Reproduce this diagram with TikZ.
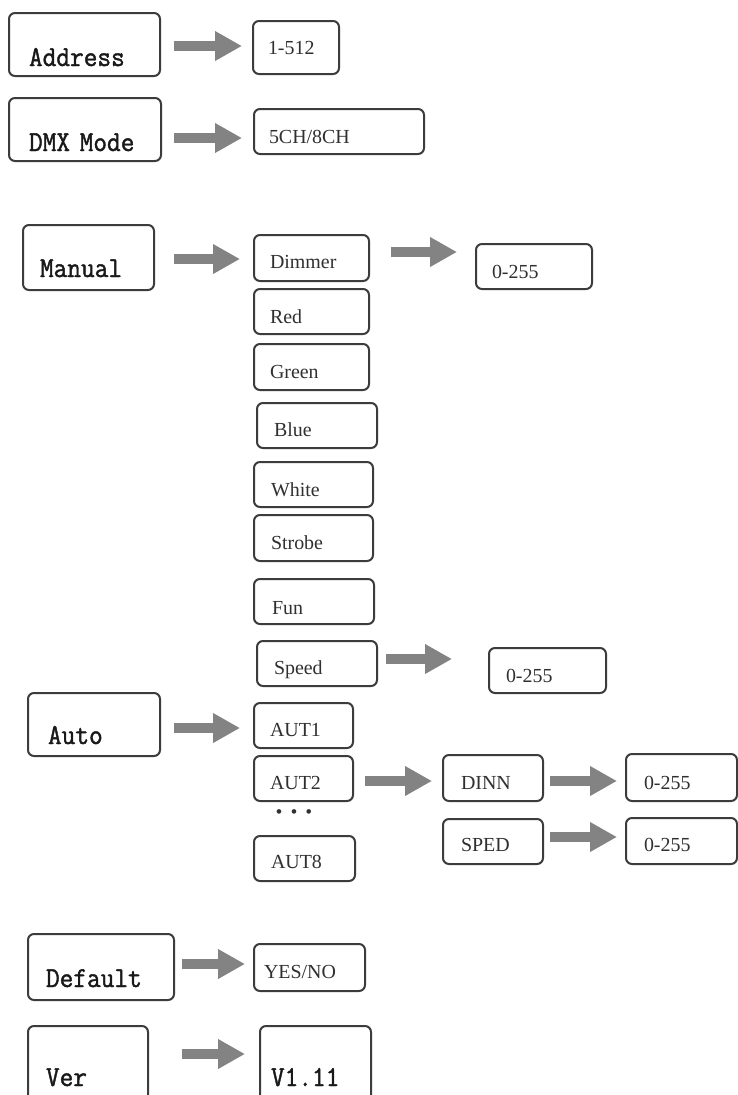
\documentclass[tikz,border=0pt]{standalone}
\usepackage{fontspec}
\setmainfont{Liberation Serif}
\newfontfamily\monob[FakeBold=1.4, FakeStretch=0.92]{Latin Modern Mono}
\usetikzlibrary{arrows.meta}
\definecolor{boxc}{HTML}{3C3C3C}
\definecolor{arrc}{HTML}{838383}
\definecolor{txtc}{HTML}{303030}
\tikzset{
  bx/.style={draw=boxc, line width=2bp, rounded corners=6bp, anchor=north west,
    inner ysep=0pt, align=left, text=txtc},
  g/.style n args={4}{text width=#1bp, inner xsep=#2bp, text height=#3bp, text depth=#4bp},
  lt/.style={font=\monob\fontsize{29}{29}\selectfont, text=black!90},
  rt/.style={font=\fontsize{20}{20}\selectfont},
  arr/.style={draw=arrc, line width=10bp, -{Triangle[length=27bp,width=28bp]}},
}
\begin{document}
\begin{tikzpicture}[x=1bp, y=-1bp]
\clip (0,0) rectangle (738,1095);
\fill[white] (0,0) rectangle (738,1095);
% left column
\node[bx, lt, g={111}{20}{53}{10}] (addr) at (8,12) {Address};
\node[bx, lt, g={112}{20}{53}{10}] (dmx) at (8,97) {DMX Mode};
\node[bx, lt, g={97}{17}{52}{13}] (manual) at (22,224) {Manual};
\node[bx, lt, g={92}{20}{51}{12}] (auto) at (27,692) {Auto};
\node[bx, lt, g={110}{18}{53}{13}] (default) at (27,933) {Default};
\node[bx, lt, g={84}{18}{60}{25}] (ver) at (27,1025) {Ver};
% values
\node[bx, rt, g={56}{15}{33}{20}] (v1) at (252,20) {1-512};
\node[bx, rt, g={140}{15}{34}{11}] (v2) at (253,108) {5CH/8CH};
\node[bx, rt, g={83}{16}{33}{13}] (dimmer) at (253,234) {Dimmer};
\node[bx, rt, g={84}{16}{34}{11}] (d255) at (475,243) {0-255};
\node[bx, rt, g={83}{16}{34}{11}] (red) at (253,288) {Red};
\node[bx, rt, g={83}{16}{34}{12}] (green) at (253,343) {Green};
\node[bx, rt, g={86}{17}{33}{12}] (blue) at (256,402) {Blue};
\node[bx, rt, g={85}{17}{34}{11}] (white) at (253,461) {White};
\node[bx, rt, g={85}{17}{34}{12}] (strobe) at (253,514) {Strobe};
\node[bx, rt, g={84}{18}{35}{10}] (fun) at (253,578) {Fun};
\node[bx, rt, g={86}{17}{33}{12}] (speed) at (256,640) {Speed};
\node[bx, rt, g={83}{17}{34}{11}] (s255) at (488,647) {0-255};
\node[bx, rt, g={67}{16}{33}{12}] (aut1) at (253,702) {AUT1};
\node[bx, rt, g={67}{16}{33}{12}] (aut2) at (253,755) {AUT2};
\node[text=txtc, font=\bfseries\fontsize{17}{17}\selectfont] (dots) at (294,814) {•\hspace{9bp}•\hspace{9bp}•};
\node[bx, rt, g={67}{17}{32}{13}] (aut8) at (253,835) {AUT8};
\node[bx, rt, g={64}{18}{34}{12}] (dinn) at (442,754) {DINN};
\node[bx, rt, g={64}{18}{32}{13}] (sped) at (442,818) {SPED};
\node[bx, rt, g={75}{18}{35}{12}] (r1) at (625,753) {0-255};
\node[bx, rt, g={75}{18}{33}{13}] (r2) at (625,817) {0-255};
\node[bx, rt, g={91}{10}{34}{13}] (yes) at (253,943) {YES/NO};
\node[bx, lt, g={89}{11}{60}{25}] (v111) at (259,1025) {V1.11};
% arrows
\draw[arr, shorten <=13bp, shorten >=10bp] ([yshift=-1.5bp]addr.east) -- ([yshift=-1.5bp]addr.east -| v1.west);
\draw[arr, shorten <=12bp, shorten >=11bp] ([yshift=-8.5bp]dmx.east) -- ([yshift=-8.5bp]dmx.east -| v2.west);
\draw[arr, shorten <=19bp, shorten >=13bp] ([yshift=-1.5bp]manual.east) -- ([yshift=-1.5bp]manual.east -| dimmer.west);
\draw[arr, shorten <=21bp, shorten >=18bp] ([yshift=6bp]dimmer.east) -- ([yshift=6bp]dimmer.east -| d255.west);
\draw[arr, shorten <=8bp, shorten >=36bp] ([yshift=4.5bp]speed.east) -- ([yshift=4.5bp]speed.east -| s255.west);
\draw[arr, shorten <=13bp, shorten >=13bp] ([yshift=-3.5bp]auto.east) -- ([yshift=-3.5bp]auto.east -| aut1.west);
\draw[arr, shorten <=11bp, shorten >=10bp] ([yshift=-2.5bp]aut2.east) -- ([yshift=-2.5bp]aut2.east -| dinn.west);
\draw[arr, shorten <=6bp, shorten >=8bp] ([yshift=-3bp]dinn.east) -- ([yshift=-3bp]dinn.east -| r1.west);
\draw[arr, shorten <=6bp, shorten >=8bp] ([yshift=4.5bp]sped.east) -- ([yshift=4.5bp]sped.east -| r2.west);
\draw[arr, shorten <=7bp, shorten >=8bp] ([yshift=3bp]default.east) -- ([yshift=3bp]default.east -| yes.west);
\draw[arr, shorten <=33bp, shorten >=14bp] ([yshift=14.5bp]ver.east) -- ([yshift=14.5bp]ver.east -| v111.west);
\end{tikzpicture}
\end{document}
